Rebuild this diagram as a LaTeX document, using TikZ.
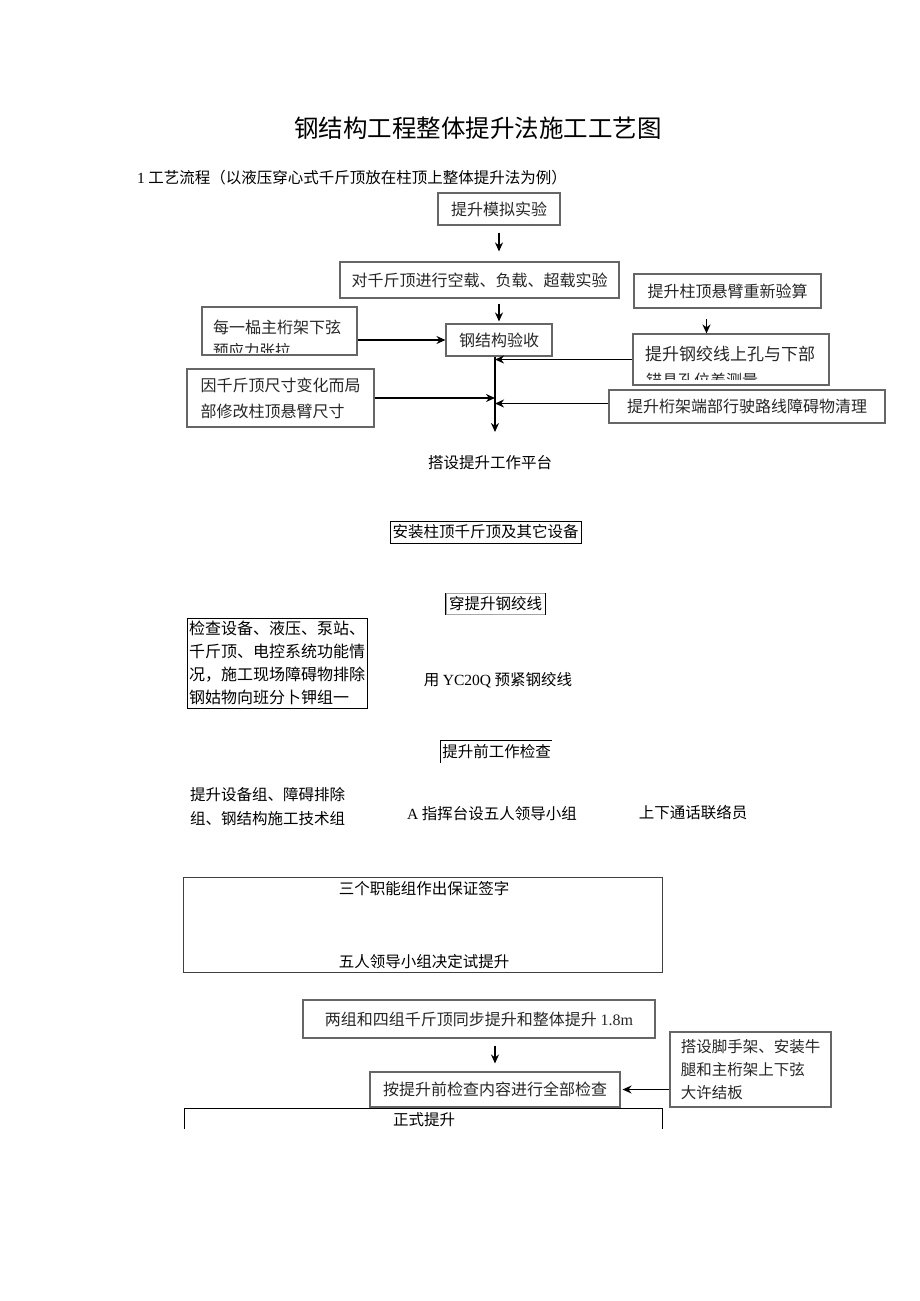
\documentclass[tikz,border=0pt]{standalone}
\usepackage{fontspec}
\setmainfont{Noto Sans CJK SC}
\newfontfamily\latf{Liberation Serif}
\usetikzlibrary{arrows.meta,positioning,calc}

\tikzset{
  box/.style={draw=black!60, line width=1.1pt, text=black!85, inner sep=0pt,
    font=\fontsize{16}{26}\selectfont},
  thinbox/.style={draw=black, line width=0.8pt, inner sep=0pt,
    font=\fontsize{15.5}{23}\selectfont},
  plain/.style={inner sep=0pt, font=\fontsize{15.5}{24}\selectfont},
  arr/.style={-{Stealth[length=9pt,width=8pt]}, line width=1.6pt},
}

\begin{document}
\begin{tikzpicture}[x=1pt,y=-1pt]
\useasboundingbox (0,0) rectangle (920,1301);

% title and heading
\node[font=\fontsize{24.5}{30}\selectfont] (title) at (478,128) {钢结构工程整体提升法施工工艺图};
\node[plain, anchor=west] (hdr) at (137,178) {{\latf 1} 工艺流程（以液压穿心式千斤顶放在柱顶上整体提升法为例）};

% upper part
\node[box, minimum width=122pt, minimum height=32pt] (mn) at (499,209) {提升模拟实验};
\node[box, minimum width=279pt, minimum height=36pt] (zz) at (479.5,280) {对千斤顶进行空载、负载、超载实验};
\node[box, minimum width=106pt, minimum height=32pt] (ys) at (499,340) {钢结构验收};
\node[box, minimum width=155pt, minimum height=48pt] (mp) at (279.5,331) {};
\node[plain, anchor=west, text=black!85, font=\fontsize{16}{24}\selectfont] (mp1) at (213,327) {每一榀主桁架下弦};
\begin{scope}
  \clip (mp.north west) rectangle ([yshift=3pt]mp.south east);
  \node[plain, anchor=west, text=black!85] (mp2) at (213,351) {预应力张拉};
\end{scope}
\node[box, align=left, minimum width=187pt, minimum height=58pt] (yq) at (280.5,398)
  {因千斤顶尺寸变化而局\\部修改柱顶悬臂尺寸};
\node[box, minimum width=187pt, minimum height=34pt] (jx) at (727.5,291) {提升柱顶悬臂重新验算};
\node[box, minimum width=196pt, minimum height=51pt] (kw) at (731,359.5) {};
\node[plain, anchor=west, text=black!85, font=\fontsize{17}{24}\selectfont] (kw1) at (645,354) {提升钢绞线上孔与下部};
\begin{scope}
  \clip (kw.north west) rectangle ([yshift=6pt]kw.south east);
  \node[plain, anchor=west, text=black!85, font=\fontsize{16}{24}\selectfont] (kw2) at (646,380) {锚具孔位差测量};
\end{scope}
\node[box, minimum width=276pt, minimum height=33pt] (tj) at (747,406.5) {提升桁架端部行驶路线障碍物清理};
\coordinate (spine) at (495,432);

\draw[arr, shorten <=7pt, shorten >=10pt] (mn.south) -- (mn.south |- zz.north);
\draw[arr, shorten <=5pt, shorten >=2pt] (ys.north |- zz.south) -- (ys.north);
\draw[arr, shorten <=10pt] ([xshift=-21pt]jx.south) -- ([xshift=-21pt]jx.south |- kw.north);
\draw[arr] (mp.east |- ys.west) -- (ys.west);
\draw[arr] (ys.south -| spine) -- (spine);
\draw[arr] (yq.east) -- (yq.east -| spine);
\draw[arr] (kw.west) -- (kw.west -| spine);
\draw[arr] ([yshift=3pt]tj.west) -- ([yshift=3pt]tj.west -| spine);

% middle part
\node[plain] (dt) at (490,463) {搭设提升工作平台};
\node[thinbox, minimum width=191pt, minimum height=22pt] (az) at (485.5,532) {安装柱顶千斤顶及其它设备};
\node[thinbox, draw=black!35, line width=0.5pt, minimum width=99pt, minimum height=21pt] (cs) at (495.5,604) {穿提升钢绞线};
\draw[line width=0.9pt] (cs.north west) -- (cs.south west);
\draw[line width=0.9pt] (cs.north east) -- (cs.south east);
\node[thinbox, align=left, font=\fontsize{16}{23}\selectfont, minimum width=180pt, minimum height=90pt] (jc) at (277,663)
  {检查设备、液压、泵站、\\千斤顶、电控系统功能情\\况，施工现场障碍物排除\\钢姑物向班分卜钾组一};
\node[plain] (yy) at (498,680) {用 {\latf YC20Q} 预紧钢绞线};
\node[plain, minimum width=111pt, minimum height=22pt] (tq) at (496.5,752) {提升前工作检查};
\draw[line width=0.8pt] (tq.south west) -- (tq.north west) -- (tq.north east);
\node[plain, anchor=west, align=left] (sb) at (190,807) {提升设备组、障碍排除\\组、钢结构施工技术组};
\node[plain] (zh) at (492,814) {{\latf A} 指挥台设五人领导小组};
\node[plain] (sx) at (693,813) {上下通话联络员};

% lower part
\node[draw=black!75, line width=0.8pt, minimum width=479pt, minimum height=95pt, inner sep=0pt] (bb) at (422.5,924.5) {};
\node[plain] (bb1) at (424,889) {三个职能组作出保证签字};
\node[plain] (bb2) at (424,962) {五人领导小组决定试提升};
\node[box, minimum width=352pt, minimum height=38pt] (lq) at (479,1019) {两组和四组千斤顶同步提升和整体提升 {\latf 1.8m}};
\node[box, minimum width=250pt, minimum height=35pt] (aj) at (495,1089.5) {按提升前检查内容进行全部检查};
\node[box, align=left, font=\fontsize{15.5}{23}\selectfont, minimum width=161pt, minimum height=75pt] (dj) at (750.5,1069.5)
  {搭设脚手架、安装牛\\腿和主桁架上下弦\\大许结板};
\draw[arr, shorten <=7pt, shorten >=8pt] (aj.north |- lq.south) -- (aj.north);
\draw[arr, shorten >=2pt] (dj.west |- aj.east) -- (aj.east);
\node[plain] (zs) at (424,1120) {正式提升};
\draw[line width=0.8pt] (184,1129) |- (662,1108) -- (662,1129);
\end{tikzpicture}
\end{document}
